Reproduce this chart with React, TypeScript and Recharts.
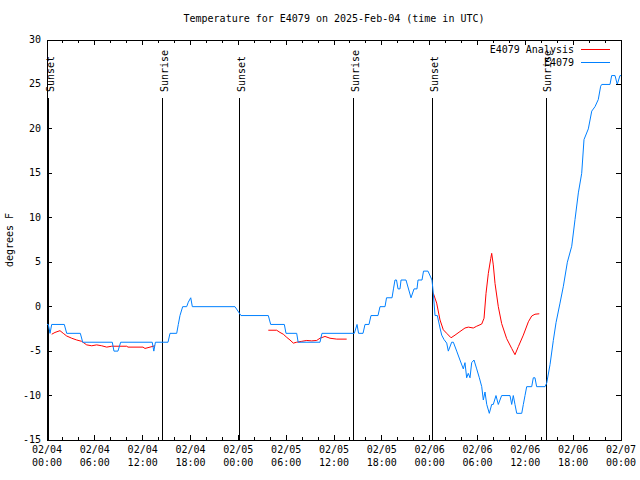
import { LineChart, Line, XAxis, YAxis, ReferenceLine, ReferenceArea } from "recharts";

// hours since 02/04 00:00 UTC, temperatures in degrees F
const obsHours = [
  0, 0.16, 0.38, 0.59, 2.17, 2.47, 4.18, 4.48, 8.19, 8.4, 8.9, 9.24, 13.2, 13.4, 13.6,
  15.18, 15.43, 16.27, 16.47, 16.68, 17.02, 17.52, 17.72, 18.03, 18.23, 23.58, 24.33,
  27.76, 28.06, 29.77, 29.98, 31.32, 31.5, 34.24, 34.49, 38.55, 38.89, 39.08, 39.64,
  39.89, 40.39, 40.64, 41.52, 41.77, 42.4, 42.59, 43.28, 43.46, 43.65, 43.84, 44.03,
  44.28, 44.41, 45.03, 45.66, 46.04, 46.41, 46.54, 47.04, 47.23, 47.79, 48.29, 48.46,
  48.67, 48.96, 49.3, 49.51, 49.8, 50.14, 50.34, 50.76, 50.97, 51.39, 51.8, 52.22,
  52.43, 52.64, 52.84, 53.06, 53.27, 53.56, 53.9, 54.23, 54.53, 54.73, 54.94, 55.16,
  55.48, 55.78, 55.98, 56.32, 56.61, 57.03, 58.08, 58.29, 58.49, 58.7, 58.92, 59.55,
  59.75, 59.96, 60.17, 60.8, 61.0, 61.21, 61.42, 62.47, 62.68, 63.1, 63.51, 63.85,
  64.35, 64.77, 65.27, 65.82, 66.23, 66.65, 67.07, 67.36, 67.9, 68.33, 68.74, 69.15,
  69.45, 69.58, 70.62, 70.83, 71.25, 71.53, 71.87, 72,
];
const obsTemps = [
  -2, -2, -3, -2, -2, -3, -3, -4, -4, -5, -5, -4, -4, -5, -4,
  -4, -3, -3, -2, -1, 0, 0, 0.5, 1, 0, 0, -1,
  -1, -2, -2, -3, -3, -4, -4, -3, -3, -2, -3, -3,
  -2, -2, -1, -1, 0, 0, 1, 1, 2, 3, 3, 2,
  2, 3, 3, 1, 2, 2, 3, 3, 4, 4, 3, 1.5,
  -1, -1, -2.4, -3.2, -3.7, -4.1, -5, -4, -4, -5, -6, -7,
  -6.3, -8, -7.5, -8, -6.3, -6, -7, -8, -9, -10.5, -9.6, -11,
  -12, -11, -11, -10, -11, -10, -10, -11, -10, -11, -12, -12,
  -11, -10, -9, -9, -8, -8, -9, -9, -8.6, -6.5, -3.8, -1.8,
  0.4, 2.3, 5, 6.8, 9.8, 12.8, 15, 18.8, 20, 22, 22.5, 23.3,
  24.8, 25, 25, 26, 26, 25, 26, 26,
];

// analysis series, null entries break the line between runs
const anaHours = [
  0.59, 1.0, 1.63, 2.04, 2.47, 3.1, 3.73, 4.35, 4.98, 5.61, 6.23, 6.86, 7.49, 8.12,
  10.0, 10.16, 12.04, 12.29, 12.92, 13.55,
  20,
  27.76, 28.81, 29.23, 29.64, 30.07, 30.48, 30.9, 31.32, 31.95, 32.58, 33.2, 33.83,
  34.24, 34.87, 35.5, 36.34, 37.59,
  43,
  48.46, 48.88, 49.3, 49.71, 50.14, 50.68, 51.18, 51.8, 52.43, 52.85, 53.47, 53.9,
  54.53, 54.82, 55.07, 55.36, 55.66, 55.78, 55.98, 56.2, 56.61, 57.03, 57.66, 58.29,
  58.7, 59.12, 59.75, 60.38, 60.8, 61.21, 61.75,
];
const anaTemps: (number | null)[] = [
  -3.1, -2.9, -2.7, -3.0, -3.3, -3.55, -3.75, -3.9, -4.3, -4.4, -4.3, -4.4, -4.55, -4.45,
  -4.45, -4.55, -4.55, -4.7, -4.55, -4.4,
  null,
  -2.65, -2.65, -2.9, -3.1, -3.45, -3.75, -4.1, -4.0, -3.9, -3.8, -3.85, -3.8,
  -3.55, -3.35, -3.55, -3.65, -3.65,
  null,
  1.5, 0.4, -1.5, -2.6, -3.0, -3.5, -3.2, -2.8, -2.4, -2.3, -2.4, -2.2,
  -1.95, -1.3, 1.5, 3.75, 5.4, 6.0, 4.7, 2.6, 0, -1.9, -3.6, -4.7,
  -5.4, -4.5, -3.2, -1.7, -1.05, -0.85, -0.8,
];

const sunHours = [0.25, 14.55, 24.2, 38.5, 48.4, 62.6];
const sunLabels = ["Sunset", "Sunrise", "Sunset", "Sunrise", "Sunset", "Sunrise"];

const dayLabels = ["02/04", "02/05", "02/06", "02/07"];
const xTicks = Array.from({ length: 37 }, (_, i) => i * 2);
const yTicks = [-15, -10, -5, 0, 5, 10, 15, 20, 25, 30];

const FONT = "'DejaVu Sans Mono', monospace";
const PLOT_TOP = 40;
const PLOT_BOTTOM = 440;
const PLOT_LEFT = 47;
const PLOT_RIGHT = 621;
const RED = "#ff0000";
const BLUE = "#0080ff";

const obsData = obsHours.map((h, i) => ({ h, t: obsTemps[i] }));
const anaData = anaHours.map((h, i) => ({ h, t: anaTemps[i] }));

function XTick(props: any) {
  const { x, payload } = props;
  const h = payload.value as number;
  const major = h % 6 === 0;
  const len = major ? 5 : 3;
  const hh = String(h % 24).padStart(2, "0");
  return (
    <g shapeRendering="crispEdges">
      <line x1={x} x2={x} y1={PLOT_BOTTOM} y2={PLOT_BOTTOM - len} stroke="#000" />
      <line x1={x} x2={x} y1={PLOT_TOP} y2={PLOT_TOP + len} stroke="#000" />
      {major && (
        <text x={x} y={453} textAnchor="middle" fontFamily={FONT} fontSize={10} fill="#000">
          <tspan x={x}>{dayLabels[Math.floor(h / 24)]}</tspan>
          <tspan x={x} dy={13}>{hh}:00</tspan>
        </text>
      )}
    </g>
  );
}

function YTick(props: any) {
  const { y, payload } = props;
  return (
    <g shapeRendering="crispEdges">
      <line x1={PLOT_LEFT} x2={PLOT_LEFT + 5} y1={y} y2={y} stroke="#000" />
      <line x1={PLOT_RIGHT} x2={PLOT_RIGHT - 5} y1={y} y2={y} stroke="#000" />
      <text x={41} y={y + 3} textAnchor="end" fontFamily={FONT} fontSize={10} fill="#000">
        {payload.value}
      </text>
    </g>
  );
}

function sunLabel(text: string) {
  return (props: any) => {
    const x = props.viewBox?.x ?? 0;
    return (
      <text
        x={x + 5}
        y={92}
        transform={`rotate(-90 ${x + 5} 92)`}
        fontFamily={FONT}
        fontSize={10}
        fill="#000"
      >
        {text}
      </text>
    );
  };
}

export default function App() {
  return (
    <div style={{ position: "absolute", left: 0, top: 0, width: 640, height: 480, background: "#fff" }}>
      <div
        style={{
          position: "absolute",
          top: 13,
          left: PLOT_LEFT,
          width: PLOT_RIGHT - PLOT_LEFT,
          textAlign: "center",
          fontFamily: FONT,
          fontSize: 10,
        }}
      >
        Temperature for E4079 on 2025-Feb-04 (time in UTC)
      </div>
      <LineChart
        width={640}
        height={480}
        margin={{ top: PLOT_TOP, right: 640 - PLOT_RIGHT, bottom: 0, left: 0 }}
      >
        <XAxis
          dataKey="h"
          type="number"
          domain={[0, 72]}
          ticks={xTicks}
          interval={0}
          height={40}
          tickLine={false}
          axisLine={false}
          tick={<XTick />}
          allowDuplicatedCategory={false}
        />
        <YAxis
          type="number"
          domain={[-15, 30]}
          ticks={yTicks}
          width={PLOT_LEFT}
          tickLine={false}
          axisLine={false}
          tick={<YTick />}
          label={{
            content: () => (
              <text
                x={13}
                y={240}
                transform="rotate(-90 13 240)"
                textAnchor="middle"
                fontFamily={FONT}
                fontSize={10}
                fill="#000"
              >
                degrees F
              </text>
            ),
          }}
        />
        <ReferenceArea
          x1={0}
          x2={72}
          y1={-15}
          y2={30}
          fill="none"
          stroke="#000"
          strokeWidth={1}
          shapeRendering="crispEdges"
        />
        {sunHours.map((h, i) => (
          <ReferenceLine
            key={i}
            segment={[
              { x: h, y: -15 },
              { x: h, y: 23.5 },
            ]}
            stroke="#000"
            strokeWidth={1}
            shapeRendering="crispEdges"
            label={sunLabel(sunLabels[i])}
          />
        ))}
        <Line
          data={anaData}
          dataKey="t"
          name="E4079 Analysis"
          stroke={RED}
          strokeWidth={1}
          dot={false}
          isAnimationActive={false}
        />
        <Line
          data={obsData}
          dataKey="t"
          name="E4079"
          stroke={BLUE}
          strokeWidth={1}
          dot={false}
          isAnimationActive={false}
        />
      </LineChart>
      <div style={{ position: "absolute", left: 0, top: 0, pointerEvents: "none" }}>
        {[
          { name: "E4079 Analysis", color: RED, top: 43 },
          { name: "E4079", color: BLUE, top: 56 },
        ].map((s) => (
          <div key={s.name}>
            <div
              style={{
                position: "absolute",
                top: s.top,
                left: 400,
                width: 174,
                textAlign: "right",
                fontFamily: FONT,
                fontSize: 10,
                lineHeight: "13px",
              }}
            >
              {s.name}
            </div>
            <div
              style={{
                position: "absolute",
                top: s.top + 6,
                left: 581,
                width: 29,
                height: 1,
                background: s.color,
              }}
            />
          </div>
        ))}
      </div>
    </div>
  );
}
